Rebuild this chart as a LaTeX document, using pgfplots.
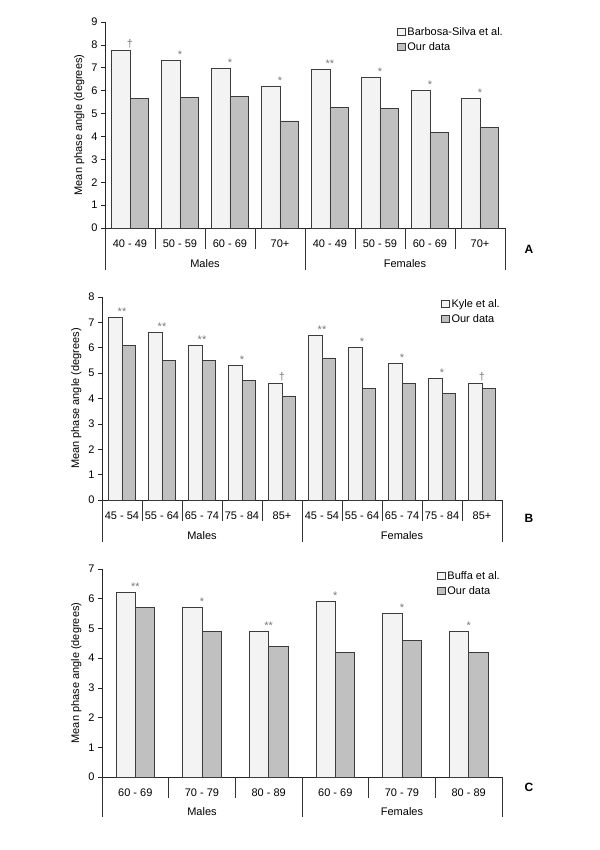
\documentclass[border=0pt]{standalone}
\usepackage{fontspec}
\setmainfont{Liberation Sans}
\usepackage{pgfplots}
\pgfplotsset{compat=1.18}
\definecolor{lightbar}{HTML}{F3F3F3}
\definecolor{darkbar}{HTML}{C0C0C0}
\definecolor{edge}{HTML}{3C3C3C}
\definecolor{stargray}{HTML}{7A7A7A}
\newcommand{\fs}{\fontsize{11bp}{13bp}\selectfont}
\tikzset{sep/.style={line width=0.6bp, color=black!80}}
\pgfplotsset{
  panel/.style={
    scale only axis, width=400bp, anchor=south west, clip=false,
    axis x line*=bottom, axis y line*=left,
    axis line style={line width=0.7bp, color=black!85},
    ymin=0, tick align=outside, major tick length=4bp,
    xtick style={draw=none},
    ytick style={line width=0.7bp, color=black!85},
    font=\fs, tick label style={font=\fs},
    /pgf/number format/assume math mode=true,
    xticklabel style={yshift=-4bp},
    ylabel={Mean phase angle (degrees)},
    ylabel style={font=\fs},
    legend style={draw=none, fill=none, font=\fs, at={(rel axis cs:1,1)}, anchor=north east,
      inner sep=0pt, row sep=1.5bp, cells={anchor=west}},
    legend image code/.code={\draw[##1, line width=0.6bp] (0bp,-3.5bp) rectangle (7.5bp,4bp);},
  },
  whitebar/.style={ybar, fill=lightbar, draw=edge, line width=0.7bp},
  greybar/.style={ybar, fill=darkbar, draw=edge, line width=0.7bp},
  stars/.style={nodes near coords, point meta=explicit symbolic,
    every node near coord/.append style={font=\fontsize{11bp}{12bp}\selectfont, text=stargray, inner sep=1.5bp}},
}
\begin{document}
\begin{tikzpicture}
\useasboundingbox (0,0) rectangle (600bp,850bp);
% ---------- Panel A ----------
\begin{axis}[panel, at={(105bp,622bp)}, height=206bp, ymax=9, ytick={0,...,9},
  xmin=-0.5, xmax=7.5, xtick={0,...,7},
  legend style={yshift=-3bp},
  xticklabels={40 - 49,50 - 59,60 - 69,70+,40 - 49,50 - 59,60 - 69,70+}]
\addplot[whitebar, bar width=18.7bp, bar shift=-9.35bp, stars] coordinates {
 (0,7.78)[†] (1,7.32)[*] (2,6.98)[*] (3,6.21)[*] (4,6.91)[**] (5,6.56)[*] (6,6.01)[*] (7,5.66)[*]};
\addplot[greybar, bar width=18.7bp, bar shift=9.35bp] coordinates {
 (0,5.66) (1,5.69) (2,5.73) (3,4.68) (4,5.27) (5,5.21) (6,4.19) (7,4.41)};
\legend{Barbosa-Silva et al., Our data}
\pgfplotsinvokeforeach{0.5,1.5,2.5,4.5,5.5,6.5}{\draw[sep] (axis cs:#1,0) -- ++(0bp,-21bp);}
\pgfplotsinvokeforeach{-0.5,3.5,7.5}{\draw[sep] (axis cs:#1,0) -- ++(0bp,-42bp);}
\node at (axis cs:1.5,0) [yshift=-36bp] {Males};
\node at (axis cs:5.5,0) [yshift=-36bp] {Females};
\node[font=\bfseries\fontsize{12bp}{14bp}\selectfont] at (axis cs:7.5,0) [xshift=24bp,yshift=-21bp] {A};
\end{axis}
% ---------- Panel B ----------
\begin{axis}[panel, at={(102bp,350bp)}, height=203bp, ymax=8, ytick={0,...,8},
  xmin=-0.5, xmax=9.5, xtick={0,...,9},
  xticklabels={45 - 54,55 - 64,65 - 74,75 - 84,85+,45 - 54,55 - 64,65 - 74,75 - 84,85+}]
\addplot[whitebar, bar width=13.3bp, bar shift=-6.65bp, stars] coordinates {
 (0,7.2)[**] (1,6.6)[**] (2,6.1)[**] (3,5.3)[*] (4,4.6)[†] (5,6.5)[**] (6,6.0)[*] (7,5.4)[*] (8,4.8)[*] (9,4.6)[†]};
\addplot[greybar, bar width=13.3bp, bar shift=6.65bp] coordinates {
 (0,6.1) (1,5.5) (2,5.5) (3,4.7) (4,4.1) (5,5.6) (6,4.4) (7,4.6) (8,4.2) (9,4.4)};
\legend{Kyle et al., Our data}
\pgfplotsinvokeforeach{0.5,1.5,2.5,3.5,5.5,6.5,7.5,8.5}{\draw[sep] (axis cs:#1,0) -- ++(0bp,-21bp);}
\pgfplotsinvokeforeach{-0.5,4.5,9.5}{\draw[sep] (axis cs:#1,0) -- ++(0bp,-42bp);}
\node at (axis cs:2,0) [yshift=-36bp] {Males};
\node at (axis cs:7,0) [yshift=-36bp] {Females};
\node[font=\bfseries\fontsize{12bp}{14bp}\selectfont] at (axis cs:9.5,0) [xshift=27bp,yshift=-18bp] {B};
\end{axis}
% ---------- Panel C ----------
\begin{axis}[panel, at={(102bp,73bp)}, height=208bp, ymax=7, ytick={0,...,7},
  xmin=-0.5, xmax=5.5, xtick={0,...,5},
  xticklabels={60 - 69,70 - 79,80 - 89,60 - 69,70 - 79,80 - 89}]
\addplot[whitebar, bar width=19.3bp, bar shift=-9.65bp, stars] coordinates {
 (0,6.2)[**] (1,5.7)[*] (2,4.9)[**] (3,5.9)[*] (4,5.5)[*] (5,4.9)[*]};
\addplot[greybar, bar width=19.3bp, bar shift=9.65bp] coordinates {
 (0,5.7) (1,4.9) (2,4.4) (3,4.2) (4,4.6) (5,4.2)};
\legend{Buffa et al., Our data}
\pgfplotsinvokeforeach{0.5,1.5,3.5,4.5}{\draw[sep] (axis cs:#1,0) -- ++(0bp,-21bp);}
\pgfplotsinvokeforeach{-0.5,2.5,5.5}{\draw[sep] (axis cs:#1,0) -- ++(0bp,-40bp);}
\node at (axis cs:1,0) [yshift=-35bp] {Males};
\node at (axis cs:4,0) [yshift=-35bp] {Females};
\node[font=\bfseries\fontsize{12bp}{14bp}\selectfont] at (axis cs:5.5,0) [xshift=27bp,yshift=-10bp] {C};
\end{axis}
\end{tikzpicture}
\end{document}
